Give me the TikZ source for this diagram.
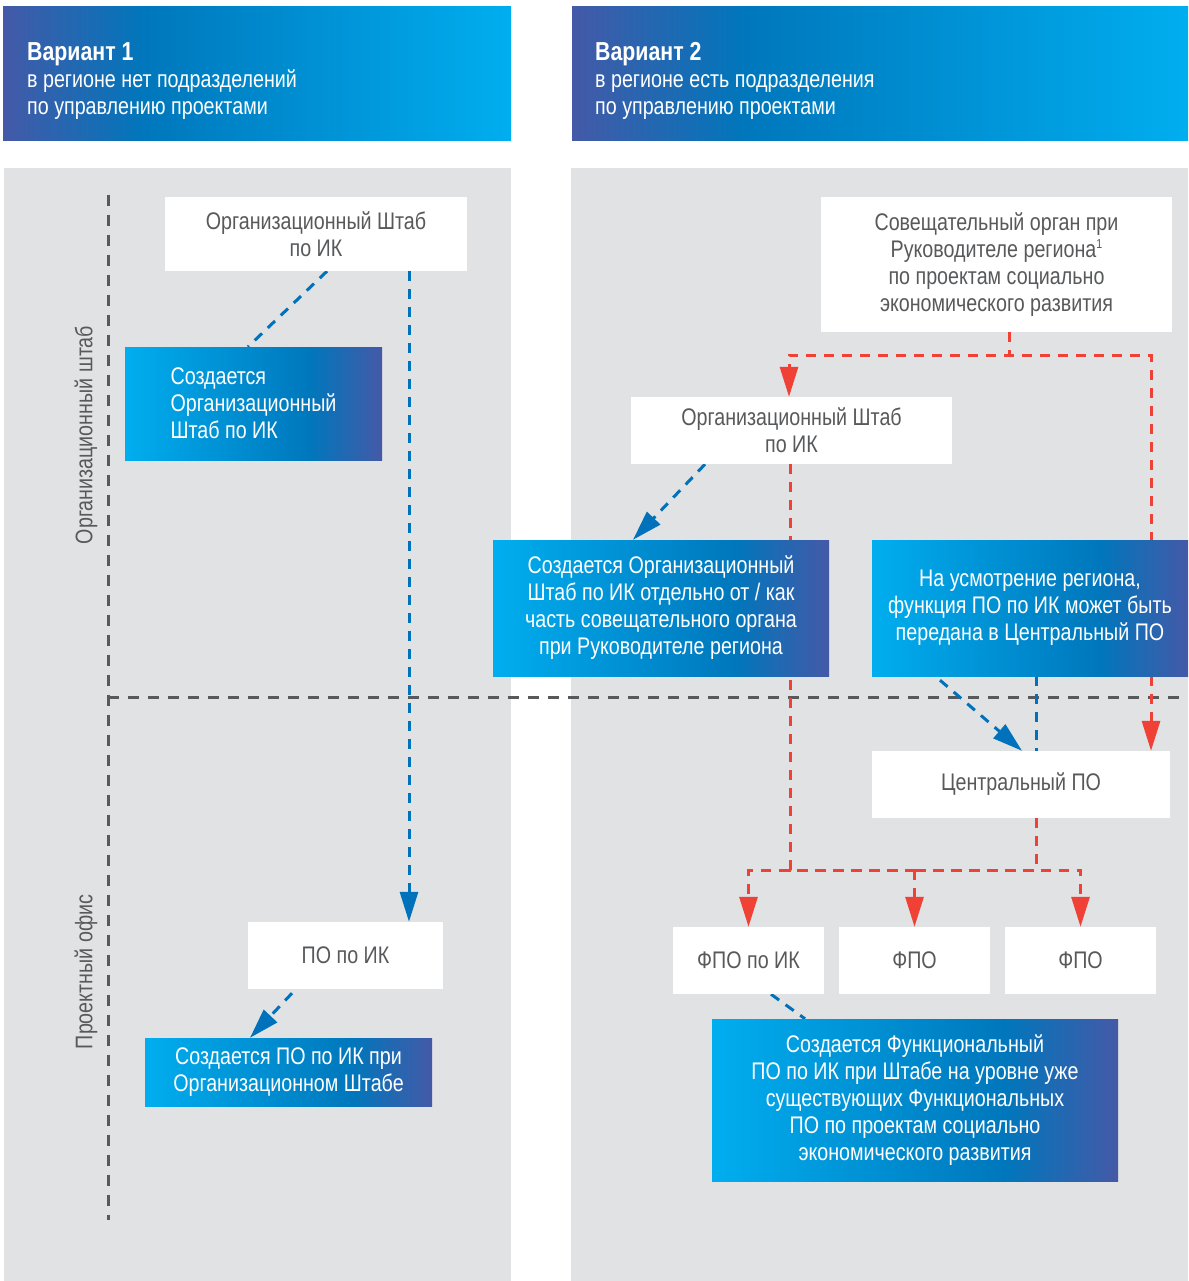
\documentclass[tikz,border=0pt]{standalone}
\usepackage{fontspec}
\setmainfont{Liberation Sans}[FakeStretch=0.82]
\usetikzlibrary{arrows.meta}

\definecolor{cyanb}{HTML}{00AEEF}
\definecolor{midb}{HTML}{0077BC}
\definecolor{purb}{HTML}{4459A7}
\definecolor{panelgray}{HTML}{E1E2E4}
\definecolor{txtgray}{HTML}{58595B}
\definecolor{lineblue}{HTML}{0072BC}
\definecolor{linered}{HTML}{EF4136}
\definecolor{linegray}{HTML}{58595B}

\pgfdeclarehorizontalshading{boxgrad}{100bp}{color(0bp)=(cyanb); color(25bp)=(cyanb); color(61bp)=(midb); color(75bp)=(purb); color(100bp)=(purb)}
\pgfdeclarehorizontalshading{headgrad}{100bp}{color(0bp)=(purb); color(25bp)=(purb); color(39bp)=(midb); color(75bp)=(cyanb); color(100bp)=(cyanb)}

\pgfdeclarelayer{panel}
\pgfdeclarelayer{lines}
\pgfsetlayers{panel,lines,main}

\newcommand\boxfont{\fontsize{24}{27}\selectfont}
\newcommand\titlefont{\fontsize{26}{27}\selectfont\bfseries}

\tikzset{
  wbox/.style={fill=white, text=txtgray, align=center, inner sep=0pt, font=\boxfont},
  bbox/.style={shading=boxgrad, text=white, align=center, inner sep=0pt, font=\boxfont},
  headbox/.style={shading=headgrad, inner sep=0pt, minimum height=134pt},
  headtext/.style={text=white, align=left, inner sep=0pt, anchor=west, font=\boxfont},
  sidelabel/.style={rotate=90, text=txtgray, font=\boxfont, inner sep=0pt},
  bline/.style={draw=lineblue, line width=3pt, dash pattern=on 10pt off 8pt},
  barrow/.style={bline, -{Triangle[width=18pt,length=30pt]}},
  rline/.style={draw=linered, line width=3pt, dash pattern=on 10pt off 8pt},
  rarrow/.style={rline, -{Triangle[width=18pt,length=30pt]}},
  gline/.style={draw=linegray, line width=3pt, dash pattern=on 11pt off 9pt}
}

\begin{document}
\begin{tikzpicture}[x=1pt,y=-1pt]
  \useasboundingbox (0,0) rectangle (1188,1281);

  % panels
  \begin{pgfonlayer}{panel}
    \fill[panelgray] (4,168) rectangle (511,1281);
    \fill[panelgray] (571,168) rectangle (1188,1281);
  \end{pgfonlayer}

  % headers
  \node[headbox, minimum width=508pt] (hd1) at (257,74) {};
  \node[headtext] (hd1t) at (27,81)
    {{\titlefont Вариант 1}\\в регионе нет подразделений\\по управлению проектами};
  \node[headbox, minimum width=616pt] (hd2) at (880,74) {};
  \node[headtext] (hd2t) at (595,81)
    {{\titlefont Вариант 2}\\в регионе есть подразделения\\по управлению проектами};

  % side labels
  \node[sidelabel] (lbhq) at (86,435) {Организационный штаб};
  \node[sidelabel] (lbpo) at (86,972) {Проектный офис};

  % variant 1
  \node[wbox, minimum width=302pt, minimum height=74pt] (hq1) at (316,234) {Организационный Штаб\\по ИК};
  \node[bbox, minimum width=257pt, minimum height=113pt, align=left] (mk1) at (253.5,403.5)
    {Создается\\Организационный\\Штаб по ИК};
  \node[wbox, minimum width=195pt, minimum height=67pt] (po1) at (345.5,955.5) {ПО по ИК};
  \node[bbox, minimum width=287pt, minimum height=68pt] (mk2) at (288.5,1072)
    {Создается ПО по ИК при\\Организационном Штабе};

  % variant 2
  \node[wbox, minimum width=351pt, minimum height=135pt] (sov) at (996.5,264.5)
    {Совещательный орган при\\Руководителе региона\raisebox{9pt}{\fontsize{13}{13}\selectfont 1}\\по проектам социально\\экономического развития};
  \node[wbox, minimum width=321pt, minimum height=67pt] (hq2) at (791.5,430.5) {Организационный Штаб\\по ИК};
  \node[bbox, minimum width=336pt, minimum height=136pt] (mk3) at (661,608)
    {Создается Организационный\\Штаб по ИК отдельно от / как\\часть совещательного органа\\при Руководителе региона};
  \node[bbox, minimum width=316pt, minimum height=136pt] (opt) at (1030,608)
    {На усмотрение региона,\\функция ПО по ИК может быть\\передана в Центральный ПО};
  \node[wbox, minimum width=298pt, minimum height=67pt] (cpo) at (1021,784.5) {Центральный ПО};
  \node[wbox, minimum width=151pt, minimum height=67pt] (f1) at (748.5,960.5) {ФПО по ИК};
  \node[wbox, minimum width=151pt, minimum height=67pt] (f2) at (914.5,960.5) {ФПО};
  \node[wbox, minimum width=151pt, minimum height=67pt] (f3) at (1080.5,960.5) {ФПО};
  \node[bbox, minimum width=406pt, minimum height=162pt] (mk4) at (915,1100)
    {Создается Функциональный\\ПО по ИК при Штабе на уровне уже\\существующих Функциональных\\ПО по проектам социально\\экономического развития};

  \coordinate (rj) at (914.5,870);

  \begin{pgfonlayer}{lines}
    % level borders
    \draw[gline] (108,195) -- (108,1220);
    \draw[gline] (108,697) -- (1182,697);
    % variant 1 links
    \draw[bline] ([xshift=11pt]hq1.south) -- ([xshift=-5.5pt]mk1.north);
    \draw[barrow] ([xshift=93pt]hq1.south) -- ([xshift=63.5pt]po1.north);
    \draw[barrow] ([xshift=-53.5pt,yshift=-4pt]po1.south) -- ([xshift=-38.5pt]mk2.north);
    % variant 2 links
    \draw[rarrow] ([xshift=12.5pt]sov.south) -- ++(0,23) -| ([xshift=-2.5pt]hq2.north);
    \draw[rarrow] ([xshift=12.5pt]sov.south) -- ++(0,23) -| ([xshift=130pt]cpo.north);
    \draw[barrow] ([xshift=-86.5pt]hq2.south) -- ([xshift=-28pt]mk3.north);
    \draw[rline] ([xshift=-1.5pt]hq2.south) |- (rj);
    \draw[barrow] ([xshift=-90pt,yshift=-4pt]opt.south) -- ([xshift=1pt]cpo.north);
    \draw[bline] ([xshift=6pt]opt.south) -- ([xshift=15pt]cpo.north);
    \draw[rline] ([xshift=15pt]cpo.south) |- (rj);
    \draw[rarrow] (rj) -| (f1.north);
    \draw[rarrow] (rj) -- (f2.north);
    \draw[rarrow] (rj) -| (f3.north);
    \draw[bline] ([xshift=22.5pt]f1.south) -- ([xshift=-110pt]mk4.north);
  \end{pgfonlayer}
\end{tikzpicture}
\end{document}
